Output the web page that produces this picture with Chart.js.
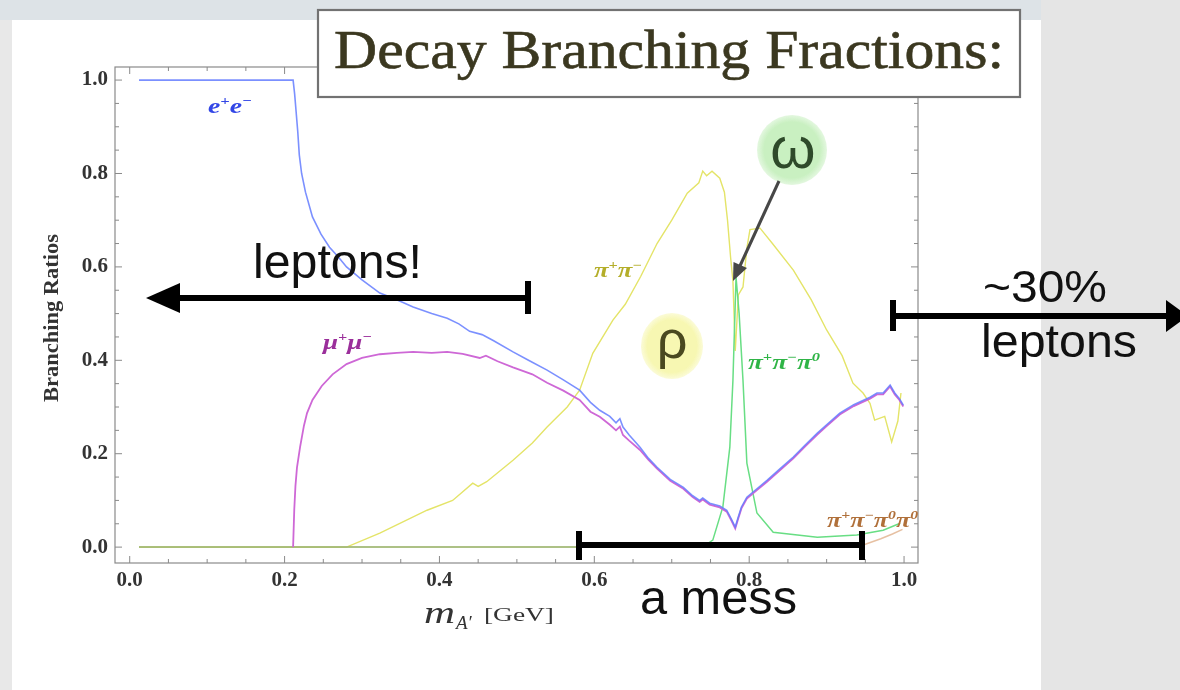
<!DOCTYPE html>
<html>
<head>
<meta charset="utf-8">
<script src="https://cdn.jsdelivr.net/npm/chart.js@4.4.1/dist/chart.umd.min.js"></script>
<style>
  html, body { margin: 0; padding: 0; }
  body { width: 1180px; height: 690px; position: relative; overflow: hidden; background: #e4e4e4; }
  .bg { position: absolute; }
  #c { position: absolute; left: 0; top: 0; }
  #ann { position: absolute; left: 0; top: 0; pointer-events: none; }
</style>
</head>
<body>
<div class="bg" style="left:0;top:0;width:1041px;height:20px;background:#dde3e7"></div>
<div class="bg" style="left:0;top:20px;width:12px;height:670px;background:#e8e8e8"></div>
<div class="bg" style="left:12px;top:20px;width:1029px;height:670px;background:#ffffff"></div>
<div class="bg" style="left:1041px;top:0;width:139px;height:690px;background:#e5e5e5"></div>
<canvas id="c" width="1180" height="690"></canvas>
<svg id="ann" width="1180" height="690" xmlns="http://www.w3.org/2000/svg">
  <defs>
    <radialGradient id="rhoFill">
      <stop offset="0.8" stop-color="#f7f7b2"/>
      <stop offset="1" stop-color="#f7f7b2" stop-opacity="0.5"/>
    </radialGradient>
    <radialGradient id="omegaFill">
      <stop offset="0.8" stop-color="#c9f0c1"/>
      <stop offset="1" stop-color="#c9f0c1" stop-opacity="0.5"/>
    </radialGradient>
  </defs>

  <!-- heading box -->
  <rect x="318" y="10" width="702" height="87" fill="#ffffff" stroke="#727272" stroke-width="2.2"/>
  <text x="334" y="68" font-family="'Liberation Serif', serif" font-size="54" fill="#3b3820"
        stroke="#3b3820" stroke-width="0.6"
        textLength="670" lengthAdjust="spacingAndGlyphs">Decay Branching Fractions:</text>

  <!-- axis titles -->
  <text transform="translate(58,318) rotate(-90)" text-anchor="middle" font-family="'Liberation Serif', serif"
        font-weight="bold" font-size="21" fill="#333" textLength="168" lengthAdjust="spacingAndGlyphs">Branching Ratios</text>
  <text x="424" y="623" font-family="'Liberation Serif', serif" font-style="italic" font-size="32" fill="#333"
        textLength="31" lengthAdjust="spacingAndGlyphs">m</text>
  <text x="456" y="629" font-family="'Liberation Serif', serif" font-style="italic" font-size="19" fill="#333">A′</text>
  <text x="484" y="621" font-family="'Liberation Serif', serif" font-size="18" fill="#333"
        textLength="70" lengthAdjust="spacingAndGlyphs">[GeV]</text>

  <!-- curve labels -->
  <text x="208" y="113" font-family="'Liberation Serif', serif" font-style="italic" font-weight="bold" font-size="22" fill="#3246e6"
        textLength="44" lengthAdjust="spacingAndGlyphs">e<tspan dy="-8" font-size="13">+</tspan><tspan dy="8">e</tspan><tspan dy="-8" font-size="13">−</tspan></text>
  <text x="323" y="349" font-family="'Liberation Serif', serif" font-style="italic" font-weight="bold" font-size="22" fill="#9b2f9b"
        textLength="49" lengthAdjust="spacingAndGlyphs">μ<tspan dy="-8" font-size="13">+</tspan><tspan dy="8">μ</tspan><tspan dy="-8" font-size="13">−</tspan></text>
  <text x="594" y="277" font-family="'Liberation Serif', serif" font-style="italic" font-weight="bold" font-size="20" fill="#b4ae2a"
        textLength="48" lengthAdjust="spacingAndGlyphs">π<tspan dy="-8" font-size="12">+</tspan><tspan dy="8">π</tspan><tspan dy="-8" font-size="12">−</tspan></text>
  <text x="748" y="369" font-family="'Liberation Serif', serif" font-style="italic" font-weight="bold" font-size="20" fill="#2fb446"
        textLength="72" lengthAdjust="spacingAndGlyphs">π<tspan dy="-8" font-size="12">+</tspan><tspan dy="8">π</tspan><tspan dy="-8" font-size="12">−</tspan><tspan dy="8">π</tspan><tspan dy="-8" font-size="12">0</tspan></text>
  <text x="827" y="527" font-family="'Liberation Serif', serif" font-style="italic" font-weight="bold" font-size="20" fill="#b0703a"
        textLength="91" lengthAdjust="spacingAndGlyphs">π<tspan dy="-8" font-size="12">+</tspan><tspan dy="8">π</tspan><tspan dy="-8" font-size="12">−</tspan><tspan dy="8">π</tspan><tspan dy="-8" font-size="12">0</tspan><tspan dy="8">π</tspan><tspan dy="-8" font-size="12">0</tspan></text>

  <!-- resonance markers -->
  <ellipse cx="672" cy="346" rx="31" ry="33" fill="url(#rhoFill)"/>
  <text x="672" y="358" text-anchor="middle" font-family="'Liberation Sans', sans-serif" font-size="54" fill="#4a4920">ρ</text>
  <circle cx="792" cy="150" r="35" fill="url(#omegaFill)"/>
  <text x="793" y="168" text-anchor="middle" font-family="'Liberation Sans', sans-serif" font-size="58" fill="#2e4a2a">ω</text>
  <line x1="779" y1="181" x2="739" y2="268" stroke="#474747" stroke-width="3"/>
  <polygon points="733,281 733.5,262 747,268" fill="#474747"/>

  <!-- region arrows -->
  <line x1="176" y1="298" x2="528" y2="298" stroke="#000" stroke-width="6"/>
  <polygon points="146,298 180,283 180,313" fill="#000"/>
  <rect x="525" y="281" width="6" height="33" fill="#000"/>

  <line x1="893" y1="316" x2="1170" y2="316" stroke="#000" stroke-width="6"/>
  <rect x="890" y="300" width="6" height="31" fill="#000"/>
  <polygon points="1188,316 1166,300 1166,332" fill="#000"/>

  <line x1="579" y1="545" x2="862" y2="545" stroke="#000" stroke-width="6"/>
  <rect x="576" y="531" width="6" height="29" fill="#000"/>
  <rect x="859" y="531" width="6" height="29" fill="#000"/>

  <!-- region notes -->
  <text x="253" y="278" font-family="'Liberation Sans', sans-serif" font-size="48" fill="#111"
        textLength="169" lengthAdjust="spacingAndGlyphs">leptons!</text>
  <text x="983" y="302" font-family="'Liberation Sans', sans-serif" font-size="45" fill="#111"
        textLength="124" lengthAdjust="spacingAndGlyphs">~30%</text>
  <text x="981" y="357" font-family="'Liberation Sans', sans-serif" font-size="46" fill="#111"
        textLength="156" lengthAdjust="spacingAndGlyphs">leptons</text>
  <text x="640" y="614" font-family="'Liberation Sans', sans-serif" font-size="48" fill="#111"
        textLength="157" lengthAdjust="spacingAndGlyphs">a mess</text>
</svg>
<script>
// A' mass in GeV and branching ratio, per decay channel
const eeMass = [0.012, 0.211, 0.213, 0.215, 0.217, 0.219, 0.222, 0.227, 0.236, 0.247, 0.258, 0.27, 0.28, 0.30, 0.323, 0.342, 0.366, 0.39, 0.41, 0.425, 0.439, 0.455, 0.47, 0.495, 0.515, 0.539, 0.56, 0.581, 0.595, 0.607, 0.62, 0.628, 0.633, 0.637, 0.645, 0.659, 0.67, 0.681, 0.698, 0.715, 0.727, 0.736, 0.74, 0.749, 0.762, 0.771, 0.777, 0.782, 0.786, 0.79, 0.797, 0.81, 0.823, 0.84, 0.857, 0.872, 0.888, 0.9, 0.917, 0.935, 0.956, 0.965, 0.973, 0.982, 0.988, 0.994, 0.999];
const eeRatio = [1.0, 1.0, 0.97, 0.93, 0.89, 0.84, 0.80, 0.76, 0.707, 0.67, 0.642, 0.62, 0.60, 0.572, 0.544, 0.532, 0.514, 0.50, 0.49, 0.478, 0.462, 0.455, 0.442, 0.418, 0.40, 0.379, 0.358, 0.336, 0.31, 0.293, 0.28, 0.266, 0.275, 0.257, 0.24, 0.214, 0.19, 0.171, 0.145, 0.128, 0.11, 0.10, 0.105, 0.094, 0.088, 0.079, 0.06, 0.043, 0.065, 0.086, 0.107, 0.125, 0.143, 0.168, 0.193, 0.218, 0.244, 0.262, 0.287, 0.305, 0.321, 0.33, 0.33, 0.347, 0.33, 0.318, 0.304];

const muMass = [0.211, 0.2125, 0.214, 0.216, 0.22, 0.225, 0.229, 0.236, 0.248, 0.262, 0.28, 0.30, 0.323, 0.345, 0.366, 0.39, 0.41, 0.43, 0.452, 0.46, 0.475, 0.495, 0.52, 0.539, 0.56, 0.581, 0.595, 0.607, 0.62, 0.628, 0.633, 0.637, 0.645, 0.659, 0.67, 0.681, 0.698, 0.715, 0.727, 0.736, 0.74, 0.749, 0.762, 0.771, 0.777, 0.782, 0.786, 0.79, 0.797, 0.81, 0.823, 0.84, 0.857, 0.872, 0.888, 0.9, 0.917, 0.935, 0.956, 0.965, 0.973, 0.982, 0.988, 0.994, 0.999];
const muRatio = [0, 0.08, 0.13, 0.17, 0.214, 0.26, 0.287, 0.315, 0.345, 0.37, 0.392, 0.405, 0.413, 0.416, 0.418, 0.416, 0.418, 0.414, 0.405, 0.41, 0.398, 0.385, 0.37, 0.352, 0.335, 0.315, 0.29, 0.279, 0.262, 0.25, 0.258, 0.24, 0.228, 0.208, 0.187, 0.168, 0.142, 0.125, 0.107, 0.097, 0.102, 0.091, 0.085, 0.076, 0.057, 0.04, 0.062, 0.083, 0.104, 0.122, 0.14, 0.165, 0.19, 0.215, 0.241, 0.259, 0.284, 0.302, 0.318, 0.327, 0.327, 0.344, 0.327, 0.315, 0.301];

const pipiMass = [0.012, 0.28, 0.323, 0.384, 0.417, 0.443, 0.45, 0.461, 0.495, 0.52, 0.539, 0.565, 0.581, 0.598, 0.624, 0.64, 0.66, 0.681, 0.70, 0.72, 0.735, 0.74, 0.745, 0.752, 0.762, 0.768, 0.772, 0.776, 0.779, 0.782, 0.786, 0.792, 0.797, 0.801, 0.814, 0.83, 0.857, 0.88, 0.90, 0.92, 0.934, 0.947, 0.956, 0.962, 0.975, 0.984, 0.992, 0.996];
const pipiRatio = [0, 0, 0.03, 0.079, 0.10, 0.137, 0.13, 0.14, 0.186, 0.223, 0.257, 0.30, 0.336, 0.415, 0.486, 0.52, 0.58, 0.65, 0.70, 0.758, 0.78, 0.805, 0.795, 0.805, 0.79, 0.76, 0.70, 0.62, 0.57, 0.42, 0.54, 0.557, 0.64, 0.68, 0.683, 0.65, 0.593, 0.53, 0.465, 0.41, 0.351, 0.33, 0.308, 0.272, 0.28, 0.225, 0.27, 0.33];

const threePiMass = [0.012, 0.74, 0.753, 0.766, 0.775, 0.779, 0.783, 0.787, 0.792, 0.797, 0.81, 0.831, 0.888, 0.939, 0.973, 0.995];
const threePiRatio = [0, 0, 0.015, 0.086, 0.214, 0.357, 0.578, 0.50, 0.357, 0.18, 0.073, 0.032, 0.021, 0.026, 0.036, 0.051];

const fourPiMass = [0.012, 0.937, 0.95, 0.97, 0.985, 0.998];
const fourPiRatio = [0, 0, 0.006, 0.018, 0.028, 0.038];

// axis tick positions (every 0.05) and the labelled ones
const tickMarks = [0, 0.05, 0.1, 0.15, 0.2, 0.25, 0.3, 0.35, 0.4, 0.45, 0.5, 0.55, 0.6, 0.65, 0.7, 0.75, 0.8, 0.85, 0.9, 0.95, 1.0];
const tickLabels = ['0.0', '0.2', '0.4', '0.6', '0.8', '1.0'];

const toPoints = (xs, ys) => xs.map((x, i) => ({ x, y: ys[i] }));

const labelFor = (v) => {
  const k = Math.round(v * 20);
  return k % 4 === 0 ? tickLabels[k / 4] : '';
};

// Mathematica-style frame with inward ticks on all four sides
const framePlugin = {
  id: 'frame',
  afterDatasetsDraw(chart) {
    const { ctx, chartArea: a, scales } = chart;
    ctx.save();
    ctx.strokeStyle = '#8a8a8a';
    ctx.lineWidth = 1.2;
    ctx.strokeRect(a.left, a.top, a.right - a.left, a.bottom - a.top);
    ctx.lineWidth = 1;
    ctx.beginPath();
    tickMarks.forEach((v) => {
      const len = Math.round(v * 20) % 4 === 0 ? 7 : 4;
      const px = scales.x.getPixelForValue(v);
      ctx.moveTo(px, a.bottom); ctx.lineTo(px, a.bottom - len);
      ctx.moveTo(px, a.top); ctx.lineTo(px, a.top + len);
      const py = scales.y.getPixelForValue(v);
      ctx.moveTo(a.left, py); ctx.lineTo(a.left + len, py);
      ctx.moveTo(a.right, py); ctx.lineTo(a.right - len, py);
    });
    ctx.stroke();
    ctx.restore();
  }
};

const tickFont = { family: "'Liberation Serif', serif", size: 21, weight: 'bold' };

const lineStyle = (color, width) => ({
  showLine: true, borderColor: color, borderWidth: width, pointRadius: 0,
  tension: 0, fill: false
});

new Chart(document.getElementById('c'), {
  type: 'scatter',
  data: {
    datasets: [
      { label: 'π+π−', data: toPoints(pipiMass, pipiRatio), ...lineStyle('rgba(228,228,104,1)', 1.4), order: 6 },
      { label: 'π+π−π0', data: toPoints(threePiMass, threePiRatio), ...lineStyle('rgba(104,222,132,1)', 1.5), order: 5 },
      { label: 'π+π−π0π0', data: toPoints(fourPiMass, fourPiRatio), ...lineStyle('rgba(214,150,100,0.6)', 1.5), order: 4 },
      { label: 'μ+μ−', data: toPoints(muMass, muRatio), ...lineStyle('rgba(206,104,214,1)', 1.8), order: 3 },
      { label: 'e+e−', data: toPoints(eeMass, eeRatio), ...lineStyle('rgba(100,124,255,0.85)', 1.6), order: 2 }
    ]
  },
  options: {
    responsive: false,
    animation: false,
    events: [],
    layout: { padding: { left: 40, right: 262, top: 67, bottom: 87 } },
    plugins: { legend: { display: false }, tooltip: { enabled: false } },
    scales: {
      x: {
        type: 'linear', min: -0.019, max: 1.018,
        afterBuildTicks: (s) => { s.ticks = tickMarks.map((v) => ({ value: v })); },
        afterFit: (s) => { s.height = 40; },
        grid: { display: false, drawTicks: false },
        border: { display: false },
        ticks: { autoSkip: false, maxRotation: 0, padding: 5, color: '#333', font: tickFont, callback: labelFor }
      },
      y: {
        type: 'linear', min: -0.034, max: 1.028,
        afterBuildTicks: (s) => { s.ticks = tickMarks.map((v) => ({ value: v })); },
        afterFit: (s) => { s.width = 75; },
        grid: { display: false, drawTicks: false },
        border: { display: false },
        ticks: { autoSkip: false, padding: 7, color: '#333', font: tickFont, callback: labelFor }
      }
    }
  },
  plugins: [framePlugin]
});
</script>
</body>
</html>
